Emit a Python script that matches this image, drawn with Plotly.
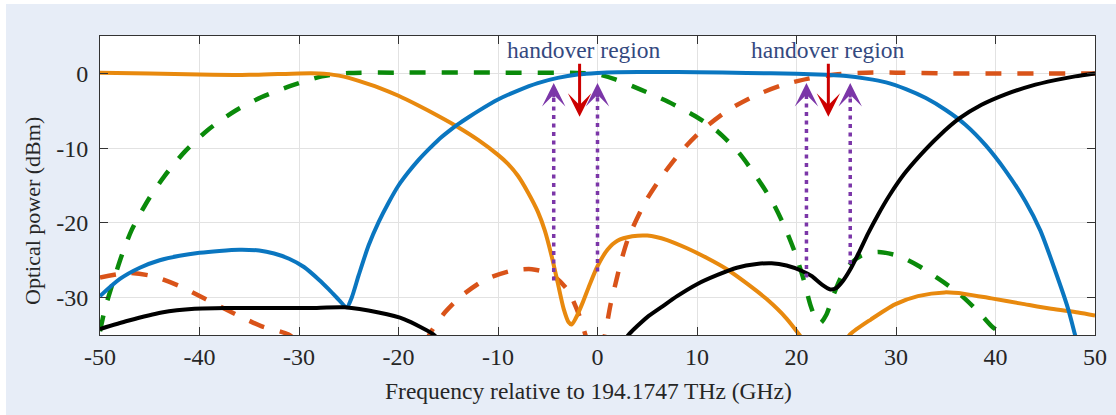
import plotly.graph_objects as go

# ---------------- data (frequency offset in GHz, optical power in dBm) ----------------
blue_x = [-50, -48, -46, -44, -42, -40, -38, -36, -34, -32.5, -31, -29.5, -28, -27, -26, -25.2,
          -24.7, -24, -23, -22, -21, -20, -19, -18, -17, -16, -15, -14, -13, -12, -10, -8, -6,
          -4, -2, 0, 2, 6, 10, 15, 20, 23, 25, 27, 29, 31, 33, 35, 37, 39, 41, 43, 44.5, 46,
          47.3, 48.0, 48.4]
blue_y = [-29.8, -27.5, -26.0, -25.0, -24.4, -24.0, -23.75, -23.6, -23.7, -24.1, -24.8, -25.9,
          -27.6, -28.9, -30.3, -31.3, -30.0, -27.0, -23.0, -19.9, -17.3, -15.0, -13.2, -11.6,
          -10.2, -8.9, -7.8, -6.8, -5.9, -5.05, -3.5, -2.3, -1.3, -0.6, -0.15, 0.05, 0.15, 0.2,
          0.15, 0.05, -0.05, -0.2, -0.35, -0.7, -1.2, -2.1, -3.3, -4.9, -6.9, -9.6, -13.0,
          -17.1, -21.0, -26.4, -31.5, -35.0, -37.0]

orange_x = [-50, -45, -40, -35, -30, -28, -27, -26, -25, -24, -22, -20, -18, -16, -14, -12, -10,
            -9, -8, -7, -6, -5.3, -4.6, -4.0, -3.4, -2.9, -2.6, -2.2, -1.5, -0.8, 0, 1, 2, 3.5,
            5, 7, 9, 11, 13, 15, 17, 19, 20.3, 21.0, None, 24.7, 25.4, 27.5, 29.9, 32.2, 34.9,
            36.9, 39.6, 42.6, 45.6, 48.3, 50]
orange_y = [0.1, 0.0, -0.15, -0.2, 0.0, 0.0, -0.1, -0.3, -0.6, -1.0, -1.9, -3.0, -4.3, -5.7,
            -7.2, -8.9, -10.9, -12.1, -13.7, -15.9, -18.5, -21.0, -24.5, -28.0, -31.5, -33.3,
            -33.6, -32.8, -30.7, -28.3, -25.8, -23.6, -22.4, -21.8, -21.7, -22.3, -23.4, -24.7,
            -26.2, -28.1, -30.2, -32.8, -35.0, -36.3, None, -36.3, -34.9, -32.9, -30.9, -29.8,
            -29.3, -29.5, -30.1, -30.8, -31.5, -32.0, -32.4]

red_dash_x = [-50, -47.2, -44.8, -42.1, -39.4, -36.4, -33.8, -31.1, -30.0, None, -17.3, -16.7,
              -15.35, -13.7, -11.3, -8.65, -6.6, -4.6, -3.0, -1.8, -1.0, None, 0.4, 0.75, 1.3,
              1.76, 2.4, 3.1, 4.8, 6.45, 8.5, 10.5, 13.15, 15.8, 18.5, 21.2, 23.9, 27, 30, 35,
              40, 45, 50]
red_dash_y = [-27.3, -26.7, -27.1, -28.4, -30.2, -32.2, -33.8, -34.9, -36.0, None, -36.0, -34.5,
              -32.0, -29.8, -27.6, -26.4, -26.2, -26.9, -29.0, -32.5, -36.0, None, -37.0, -35.0,
              -31.0, -28.4, -25.0, -22.0, -17.2, -13.8, -10.3, -7.6, -4.9, -3.0, -1.6, -0.7,
              -0.15, 0.1, 0.1, 0.0, 0.0, 0.0, 0.0]

green_x = [-50, -49.5, -48.8, -47.8, -46.8, -45.1, -43.5, -41.5, -39.1, -36.4, -33.8, -30.7,
           -27.7, -25, -20, -10, -2, 0, 1.8, 4.4, 7.1, 9.8, 12.1, 14.2, 15.8, 17.5, 18.8, 19.85,
           20.7, 21.4, 22.0, 22.4, 23.0, 23.7, 24.5, 25.4, 26.5, 28.2, 30.2, 32.2, 34.3, 36.3,
           38.3, 39.6, 40.6, 41.3]
green_y = [-34.5, -31.5, -28.4, -24.3, -20.9, -16.8, -13.7, -10.5, -7.5, -5.0, -3.2, -1.6, -0.4,
           0.05, 0.1, 0.1, 0.05, -0.1, -0.8, -2.2, -3.8, -5.7, -7.8, -10.6, -13.5, -17.0, -20.5,
           -24.0, -27.5, -31.0, -33.0, -33.4, -32.3, -29.7, -27.2, -25.5, -24.4, -23.9, -24.4,
           -25.7, -27.5, -29.4, -31.9, -33.8, -34.9, -36.0]

black_x = [-50, -47.2, -43.8, -40.5, -37, -33, -29, -25.4, -22.0, -19.4, -16.5, -16.0, None,
           2.6, 3.1, 4, 5, 6.5, 8, 10, 12, 14, 16, 17.5, 19, 20.5, 21.5, 22.5, 23.4, 24, 24.7,
           25.5, 26.3, 27.2, 28.2, 29.4, 30.8, 32.4, 34.3, 36.4, 38.6, 41, 43.5, 46, 48, 50]
black_y = [-34.2, -33.1, -32.0, -31.5, -31.4, -31.4, -31.4, -31.3, -32.0, -32.9, -34.9, -35.6,
           None, -36.0, -35.0, -33.8, -32.6, -31.2, -29.8, -28.2, -27.0, -26.0, -25.5, -25.4,
           -25.7, -26.4, -27.1, -28.2, -28.9, -28.7, -27.7, -26.0, -23.9, -21.4, -18.9, -16.2,
           -13.5, -11.0, -8.4, -6.0, -4.2, -2.8, -1.7, -0.9, -0.4, 0.0]

# handover markers
purple_x = [-4.4, 0.0, 21.0, 25.4]
purple_bottom = [-27.7, -26.5, -27.3, -25.5]
purple_tip = [-1.3, -1.3, -1.3, -1.3]
red_x = [-1.8, 23.2]
red_top = [1.5, 1.5]
red_tip = [-5.8, -5.8]
label_x = [-1.4, 23.2]
label_y = [3.1, 3.1]
label_text = ["handover region", "handover region"]

x_ticks = [-50, -40, -30, -20, -10, 0, 10, 20, 30, 40, 50]
y_ticks = [-30, -20, -10, 0]

SERIF = "Liberation Serif, Times New Roman, serif"

# ---------------- figure ----------------
fig = go.Figure()


def add_line(x, y, color, width, dash=None):
    fig.add_trace(go.Scatter(
        x=x, y=y, mode="lines", connectgaps=False, hoverinfo="skip", showlegend=False,
        line=dict(color=color, width=width, dash=dash, shape="spline", smoothing=0.7)))


add_line(red_dash_x, red_dash_y, "#D95319", 4.5, "16px,16px")
add_line(green_x, green_y, "#0A8A0A", 4.5, "16px,16px")
add_line(orange_x, orange_y, "#E8890E", 4)
add_line(blue_x, blue_y, "#0A76C0", 4)
add_line(black_x, black_y, "#000000", 4)

PURPLE = "#7B36A8"
RED = "#CC0000"
for xv, yb, yt in zip(purple_x, purple_bottom, purple_tip):
    fig.add_trace(go.Scatter(
        x=[xv, xv], y=[yb, yt - 1.5], mode="lines", hoverinfo="skip", showlegend=False,
        line=dict(color=PURPLE, width=3.5, dash="4px,4.5px")))
    fig.add_annotation(x=xv, y=yt, xref="x", yref="y", ax=0, ay=16, axref="pixel",
                       ayref="pixel", showarrow=True, arrowhead=3, arrowwidth=3,
                       arrowsize=1.3, arrowcolor=PURPLE, text="")

for xv, y0, y1 in zip(red_x, red_top, red_tip):
    fig.add_annotation(x=xv, y=y1, xref="x", yref="y", ax=xv, ay=y0, axref="x", ayref="y",
                       showarrow=True, arrowhead=3, arrowwidth=3, arrowsize=1.3,
                       arrowcolor=RED, text="")

for xv, yv, t in zip(label_x, label_y, label_text):
    fig.add_annotation(x=xv, y=yv, xref="x", yref="y", text=t, showarrow=False,
                       xanchor="center", yanchor="middle",
                       font=dict(size=23.5, color="#34497F", family=SERIF))

# axis titles as annotations for exact placement
fig.add_annotation(x=-0.0673, y=0.415, xref="paper", yref="paper", textangle=-90,
                   xanchor="center", yanchor="middle",
                   text="Optical power (dBm)", showarrow=False,
                   font=dict(size=22, color="#262626", family=SERIF))
fig.add_annotation(x=0.4905, y=-0.187, xref="paper", yref="paper",
                   xanchor="center", yanchor="middle",
                   text="Frequency relative to 194.1747 THz (GHz)", showarrow=False,
                   font=dict(size=23.5, color="#262626", family=SERIF))

# white frame strips around the light-blue panel
fig.add_shape(type="rect", xref="paper", yref="paper", x0=-0.2, x1=1.2, y0=1.107, y1=1.3,
              fillcolor="white", line=dict(width=0), layer="above")
fig.add_shape(type="rect", xref="paper", yref="paper", x0=-0.2, x1=-0.0945, y0=-0.4, y1=1.3,
              fillcolor="white", line=dict(width=0), layer="above")

axis_common = dict(ticks="inside", ticklen=8, tickcolor="#333333", tickwidth=1,
                   showline=True, linecolor="#333333", linewidth=1, mirror="ticks",
                   showgrid=True, gridcolor="#E2E2E2", gridwidth=1, zeroline=False,
                   tickfont=dict(size=24, color="#262626", family=SERIF))
fig.update_xaxes(range=[-50, 50], tickvals=x_ticks, ticktext=[str(v) for v in x_ticks],
                 ticklabelstandoff=0, **axis_common)
fig.update_yaxes(range=[-35, 5], tickvals=y_ticks, ticktext=[str(v) for v in y_ticks],
                 ticklabelstandoff=6, **axis_common)

fig.update_layout(width=1116, height=415, autosize=False,
                  margin=dict(l=100, r=21, t=36, b=80, autoexpand=False),
                  paper_bgcolor="#E7EDF7", plot_bgcolor="white", showlegend=False,
                  font=dict(family=SERIF, color="#262626"))

fig.write_html("out.html")
